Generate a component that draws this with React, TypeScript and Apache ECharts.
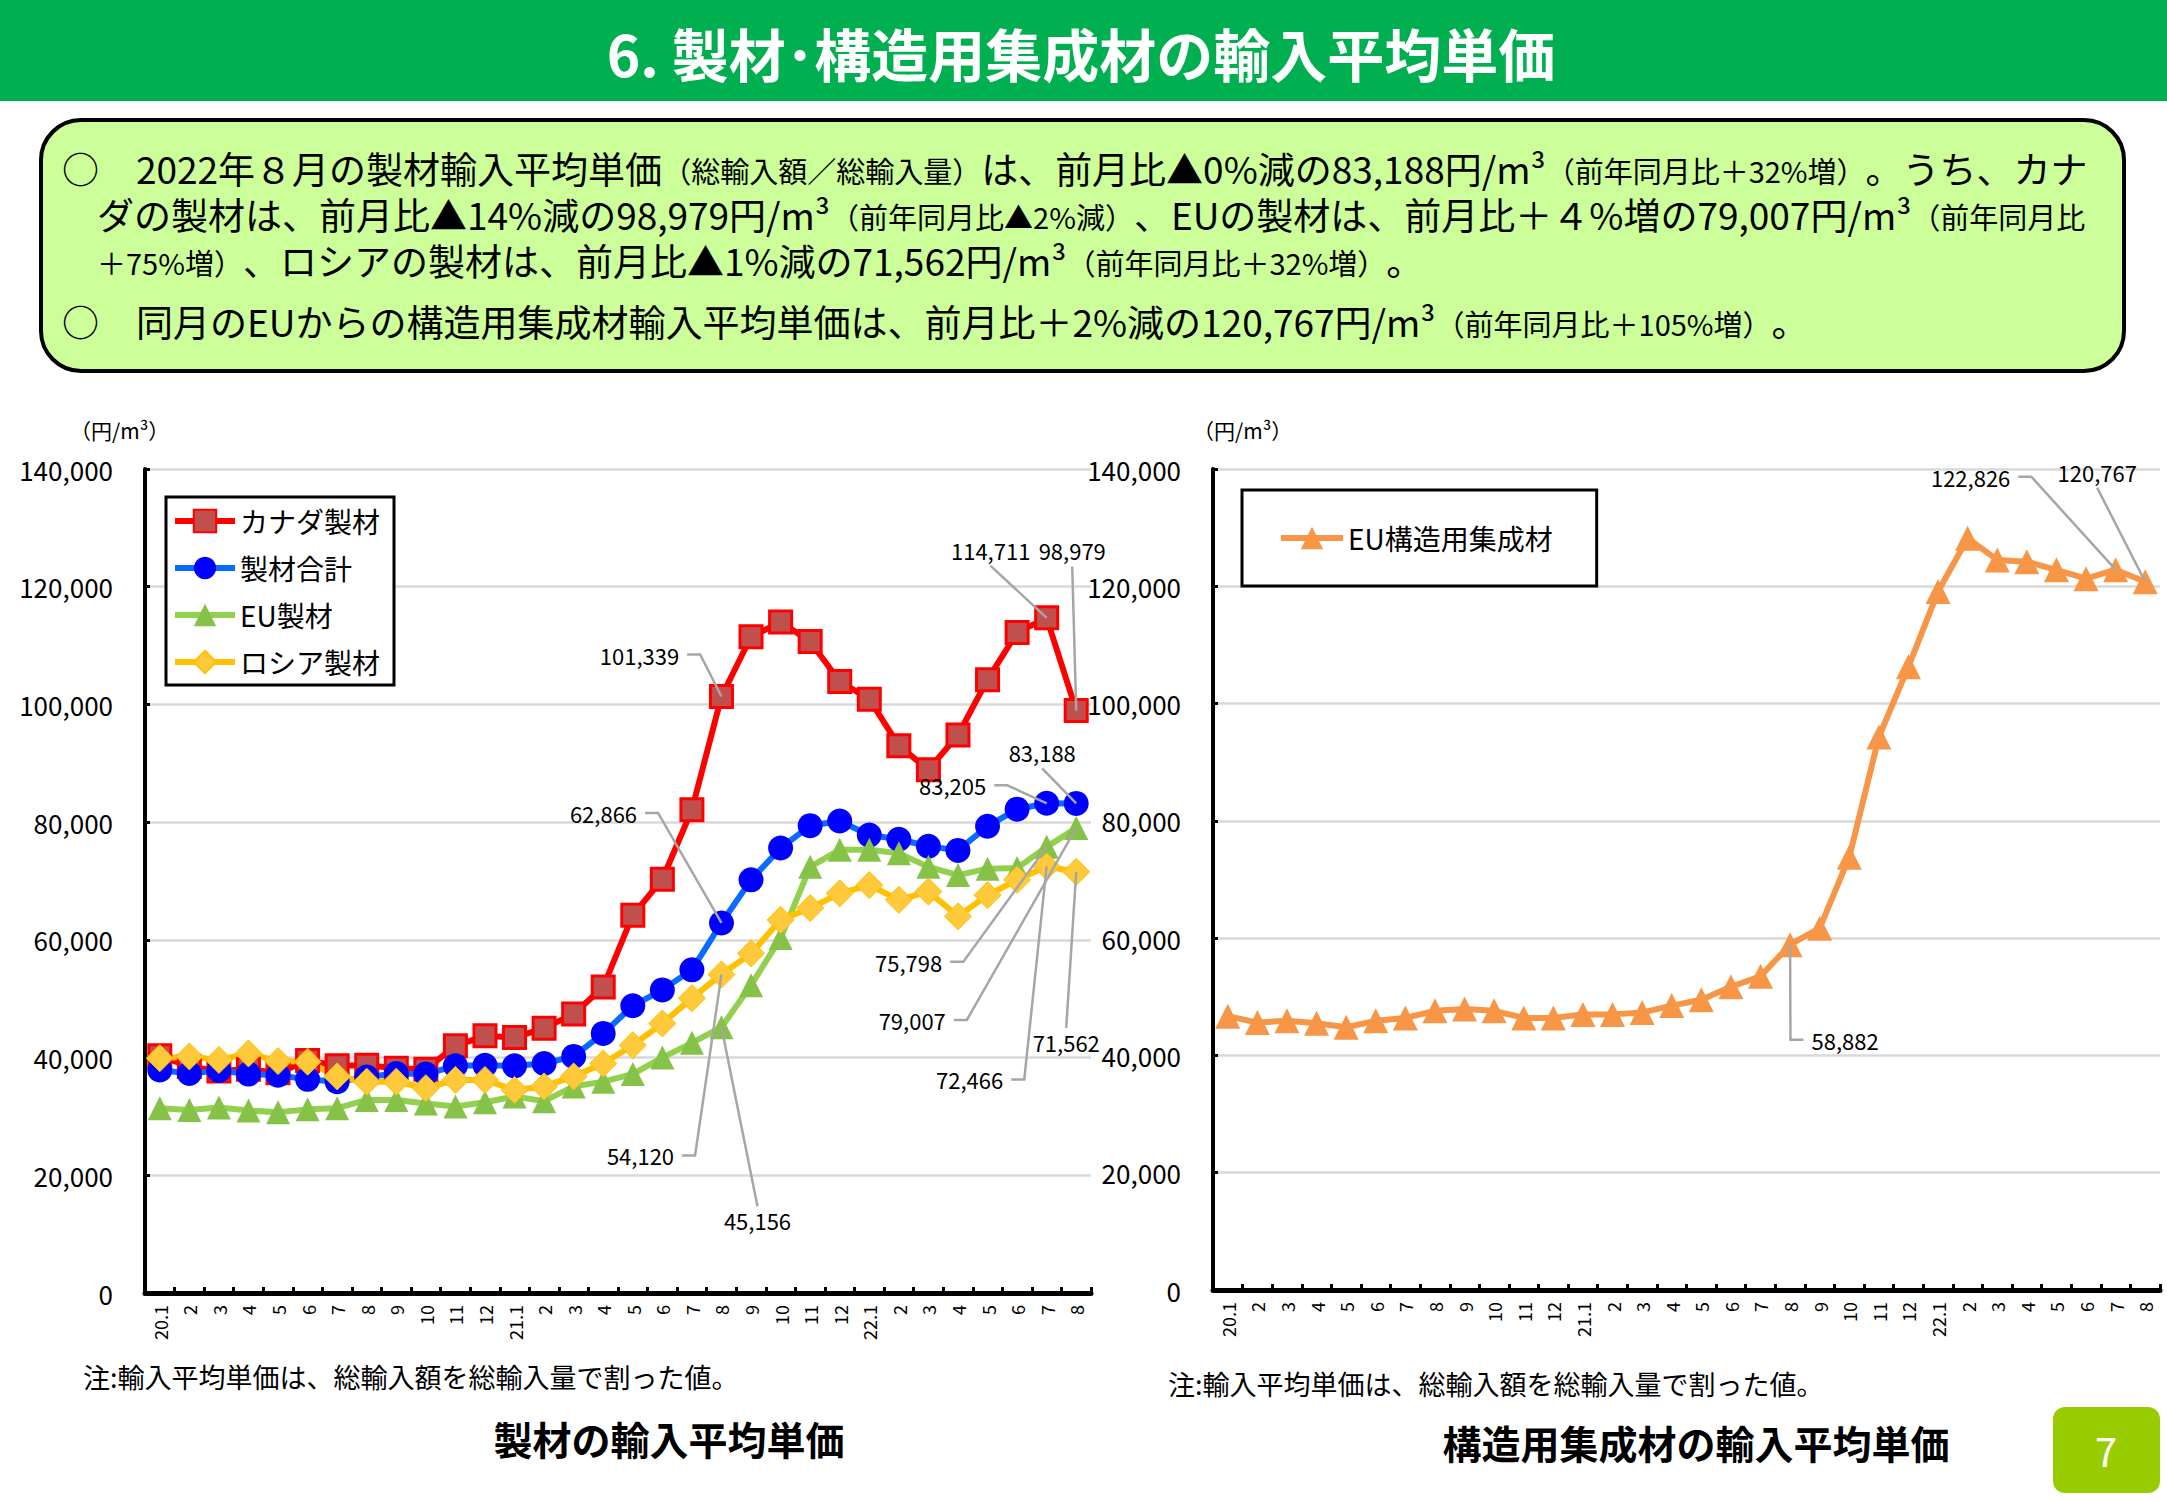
import React, { useEffect, useRef } from "react";
import * as echarts from "echarts";

// ---------- data ----------
const months = [
  "20.1", "2", "3", "4", "5", "6", "7", "8", "9", "10", "11", "12",
  "21.1", "2", "3", "4", "5", "6", "7", "8", "9", "10", "11", "12",
  "22.1", "2", "3", "4", "5", "6", "7", "8",
];

const canada = [
  40300, 38500, 37700, 38000, 37400, 39500, 38600, 38700, 38200, 38000, 42000, 43700,
  43400, 45000, 47400, 52000, 64200, 70300, 82100, 101339, 111500, 114000, 110700, 103900,
  100900, 93000, 88900, 94800, 104200, 112200, 114711, 98979,
];
const total = [
  37900, 37300, 37800, 37200, 37000, 36300, 35900, 36700, 37300, 37200, 38600, 38700,
  38600, 39000, 40200, 44100, 48800, 51500, 54900, 62866, 70200, 75600, 79400, 80200,
  77800, 77100, 75900, 75200, 79300, 82200, 83205, 83188,
];
const eu = [
  31400, 31100, 31500, 31000, 30700, 31200, 31400, 32800, 32800, 32200, 31700, 32400,
  33400, 32600, 35100, 35900, 37200, 40000, 42500, 45156, 52300, 60300, 72400, 75300,
  75300, 74700, 72400, 71000, 72100, 72200, 75798, 79007,
];
const russia = [
  39900, 40200, 39600, 40700, 39400, 39300, 36800, 35900, 35900, 34800, 36200, 36200,
  34500, 35100, 36800, 39000, 42100, 45800, 50100, 54120, 57700, 63400, 65400, 67900,
  69300, 66800, 68200, 64000, 67600, 70200, 72466, 71562,
];
const euGlulam = [
  46700, 45600, 45900, 45500, 44800, 45900, 46400, 47600, 47900, 47600, 46400, 46400,
  47000, 47000, 47300, 48500, 49500, 51700, 53500, 58882, 61700, 73800, 94300, 106300,
  119100, 128200, 124500, 124200, 122800, 121300, 122826, 120767,
];

const leftNames = ["カナダ製材", "製材合計", "EU製材", "ロシア製材"];
const rightNames = ["EU構造用集成材"];
const leftSources = [canada, total, eu, russia];

// labelled points: series index, month index, label offset, leader side
const leftNotes = [
  { s: 0, i: 19, dx: -82, dy: -42, side: "r" },
  { s: 1, i: 19, dx: -118, dy: -110, side: "r" },
  { s: 0, i: 30, dx: -56, dy: -68, side: "b" },
  { s: 0, i: 31, dx: -4, dy: -160, side: "b" },
  { s: 1, i: 31, dx: -34, dy: -51, side: "b" },
  { s: 1, i: 30, dx: -94, dy: -18, side: "r" },
  { s: 2, i: 30, dx: -138, dy: 115, side: "r" },
  { s: 2, i: 31, dx: -164, dy: 192, side: "r" },
  { s: 3, i: 30, dx: -77, dy: 213, side: "r" },
  { s: 3, i: 31, dx: -10, dy: 170, side: "t" },
  { s: 3, i: 19, dx: -81, dy: 181, side: "r" },
  { s: 2, i: 19, dx: 36, dy: 193, side: "t" },
];
const rightNotes = [
  { i: 30, dx: -145, dy: -93, side: "r" },
  { i: 31, dx: -48, dy: -110, side: "b" },
  { i: 19, dx: 55, dy: 95, side: "l" },
];

// ---------- helpers ----------
const JP = '"Noto Sans CJK JP", "Noto Sans", sans-serif';
const fmt = (v: number) => Math.round(v).toLocaleString("en-US");
const NOTE_FS = 22;
const textW = (t: string, fs: number) =>
  Array.from(t).reduce((a, ch) => a + (ch === "," ? 0.28 : 0.555) * fs, 0);

const makeNoteRenderer = (notes: any[]) => (params: any, api: any) => {
  const n = notes[params.dataIndex];
  const v = api.value(1);
  const p = api.coord([api.value(0), v]);
  const cx = p[0] + n.dx;
  const cy = p[1] + n.dy;
  const text = fmt(v);
  const w = textW(text, NOTE_FS);
  const h = NOTE_FS;
  let pts: number[][];
  if (n.side === "r") pts = [[cx + w / 2 + 8, cy], [cx + w / 2 + 21, cy], p];
  else if (n.side === "l") pts = [[cx - w / 2 - 8, cy], [cx - w / 2 - 21, cy], p];
  else if (n.side === "t") pts = [[cx, cy - h / 2 - 3], p];
  else pts = [[cx, cy + h / 2 + 5], p];
  return {
    type: "group",
    children: [
      {
        type: "polyline",
        shape: { points: pts },
        style: { stroke: "#A6A6A6", lineWidth: 2.5, fill: null },
      },
      {
        type: "text",
        x: cx,
        y: cy,
        style: {
          text,
          fontSize: NOTE_FS,
          fontFamily: JP,
          fill: "#000",
          align: "center",
          verticalAlign: "middle",
          textAlign: "center",
          textVerticalAlign: "middle",
        },
      },
    ],
  };
};

const S1 = 37;
const S2 = 29;
const rich = {
  b: { fontSize: S1, color: "#0000FF", fontFamily: JP, verticalAlign: "bottom", lineHeight: 38 },
  k: { fontSize: S1, color: "#000", fontFamily: JP, verticalAlign: "bottom", lineHeight: 38 },
  s: { fontSize: S2, color: "#000", fontFamily: JP, verticalAlign: "bottom", lineHeight: 38, padding: [0, 0, 2, 0] },
};

const boxLines = [
  { x: 62, y: 167, t: "{k|○　}{b|2022年８月の製材輸入平均単価}{s|（総輸入額／総輸入量）}{k|は、}{b|前月比▲0%減}{k|の83,188円/m³}{s|（前年同月比＋32%増）}{k|。うち、}{b|カナ}" },
  { x: 97, y: 213, t: "{b|ダの製材}{k|は、}{b|前月比▲14%減}{k|の98,979円/m³}{s|（前年同月比▲2%減）}{k|、}{b|EUの製材は、前月比＋４%増}{k|の79,007円/m³}{s|（前年同月比}" },
  { x: 97, y: 259, t: "{s|＋75%増）}{k|、}{b|ロシアの製材は、前月比▲1%減}{k|の71,562円/m³}{s|（前年同月比＋32%増）}{k|。}" },
  { x: 62, y: 320, t: "{k|○　}{b|同月のEUからの構造用集成材輸入平均単価}{k|は、}{b|前月比＋2%減}{k|の120,767円/m³}{s|（前年同月比＋105%増）}{k|。}" },
];

const txt = (x: number, y: number, text: string, fontSize: number, extra: any = {}) => ({
  type: "text",
  x,
  y,
  silent: true,
  style: {
    text,
    fontSize,
    fontFamily: JP,
    fill: "#000",
    align: "left",
    verticalAlign: "middle",
    textAlign: "left",
    textVerticalAlign: "middle",
    ...extra,
  },
});

const yAxisCommon = {
  type: "value",
  min: 0,
  max: 140000,
  interval: 20000,
  axisLine: { show: true, lineStyle: { color: "#000", width: 4 } },
  axisTick: { show: true, inside: true, length: 5, lineStyle: { color: "#000", width: 3 } },
  axisLabel: { formatter: (v: number) => fmt(v), fontSize: 26, color: "#000", margin: 32, fontFamily: JP },
  splitLine: { show: true, lineStyle: { color: "#D9D9D9", width: 2.5 } },
};

const xAxisCommon = {
  type: "category",
  data: months,
  boundaryGap: true,
  axisLine: { show: true, onZero: false, lineStyle: { color: "#000", width: 5 } },
  axisTick: { show: true, inside: true, length: 6, interval: 0, lineStyle: { color: "#000", width: 3 } },
  axisLabel: { rotate: 90, interval: 0, fontSize: 18, color: "#000", margin: 12, fontFamily: JP },
  splitLine: { show: false },
};

const lineSeries = (
  name: string,
  data: number[],
  axis: number,
  lineColor: string,
  symbol: string,
  size: number,
  fill: string,
  border?: string,
  borderWidth = 0
) => ({
  type: "line",
  name,
  data,
  xAxisIndex: axis,
  yAxisIndex: axis,
  symbol,
  symbolSize: size,
  showAllSymbol: true,
  silent: true,
  lineStyle: { color: lineColor, width: 6 },
  itemStyle: { color: fill, borderColor: border || fill, borderWidth },
  emphasis: { disabled: true },
});

const legendCommon = {
  orient: "vertical",
  itemWidth: 60,
  itemHeight: 28,
  backgroundColor: "#fff",
  borderColor: "#000",
  borderWidth: 3,
  selectedMode: false,
  lineStyle: { width: 6 },
  textStyle: { fontSize: 28, color: "#000", fontFamily: JP, lineHeight: 30 },
};

export default function App() {
  const ref = useRef<HTMLDivElement>(null);
  useEffect(() => {
    if (!ref.current) return;
    const chart = echarts.init(ref.current, undefined, { renderer: "svg" });
    const option: any = {
      animation: false,
      backgroundColor: "#fff",
      textStyle: { fontFamily: JP },
      grid: [
        { left: 145, top: 469, right: 1076, bottom: 207, containLabel: false, outerBoundsMode: "none" },
        { left: 1213, top: 469, right: 7, bottom: 210, containLabel: false, outerBoundsMode: "none" },
      ],
      xAxis: [
        { ...xAxisCommon, gridIndex: 0 },
        { ...xAxisCommon, gridIndex: 1 },
      ],
      yAxis: [
        { ...yAxisCommon, gridIndex: 0 },
        { ...yAxisCommon, gridIndex: 1 },
      ],
      legend: [
        {
          ...legendCommon,
          data: leftNames,
          left: 166,
          top: 497,
          padding: [9, 14, 8, 6],
          itemGap: 17,
        },
        {
          ...legendCommon,
          data: rightNames,
          left: 1242,
          top: 490,
          padding: [33, 44, 33, 36],
          itemWidth: 62,
        },
      ],
      series: [
        lineSeries(leftNames[0], canada, 0, "#FF0000", "rect", 22, "#C0504D", "#FF0000", 3),
        lineSeries(leftNames[1], total, 0, "#0A6CFF", "circle", 25, "#0000FF"),
        lineSeries(leftNames[2], eu, 0, "#92D050", "triangle", 24, "#86C148"),
        lineSeries(leftNames[3], russia, 0, "#FFC000", "diamond", 27, "#FFC93C", "#FFC000", 1),
        lineSeries(rightNames[0], euGlulam, 1, "#F79646", "triangle", 25, "#F79646"),
        {
          type: "custom",
          xAxisIndex: 0,
          yAxisIndex: 0,
          silent: true,
          z: 10,
          renderItem: makeNoteRenderer(leftNotes),
          data: leftNotes.map((n) => [n.i, leftSources[n.s][n.i]]),
        },
        {
          type: "custom",
          xAxisIndex: 1,
          yAxisIndex: 1,
          silent: true,
          z: 10,
          renderItem: makeNoteRenderer(rightNotes),
          data: rightNotes.map((n) => [n.i, euGlulam[n.i]]),
        },
      ],
      graphic: [
        { type: "rect", silent: true, shape: { x: 0, y: 0, width: 2167, height: 101 }, style: { fill: "#00B050" } },
        txt(1081, 52, "6. 製材･構造用集成材の輸入平均単価", 57, {
          fill: "#fff",
          fontWeight: "bold",
          align: "center",
          textAlign: "center",
        }),
        {
          type: "rect",
          silent: true,
          shape: { x: 41, y: 120, width: 2083, height: 251, r: 40 },
          style: { fill: "#CCFF99", stroke: "#000", lineWidth: 4 },
        },
        ...boxLines.map((l) => txt(l.x, l.y, l.t, S1, { rich })),
        txt(70, 430, "（円/m³）", 21),
        txt(1193, 430, "（円/m³）", 21),
        txt(83, 1376, "注:輸入平均単価は、総輸入額を総輸入量で割った値。", 27),
        txt(1168, 1383, "注:輸入平均単価は、総輸入額を総輸入量で割った値。", 27),
        txt(669, 1438, "製材の輸入平均単価", 39, { fontWeight: "bold", align: "center", textAlign: "center" }),
        txt(1696, 1442, "構造用集成材の輸入平均単価", 39, { fontWeight: "bold", align: "center", textAlign: "center" }),
        {
          type: "rect",
          silent: true,
          shape: { x: 2053, y: 1407, width: 107, height: 86, r: 12 },
          style: { fill: "#99CC00" },
        },
        txt(2106, 1450, "7", 40, { fill: "#fff", align: "center", textAlign: "center" }),
      ],
    };
    chart.setOption(option);
    return () => chart.dispose();
  }, []);
  return (
    <div
      ref={ref}
      style={{ position: "fixed", left: 0, top: 0, width: 2167, height: 1500, background: "#fff" }}
    />
  );
}
